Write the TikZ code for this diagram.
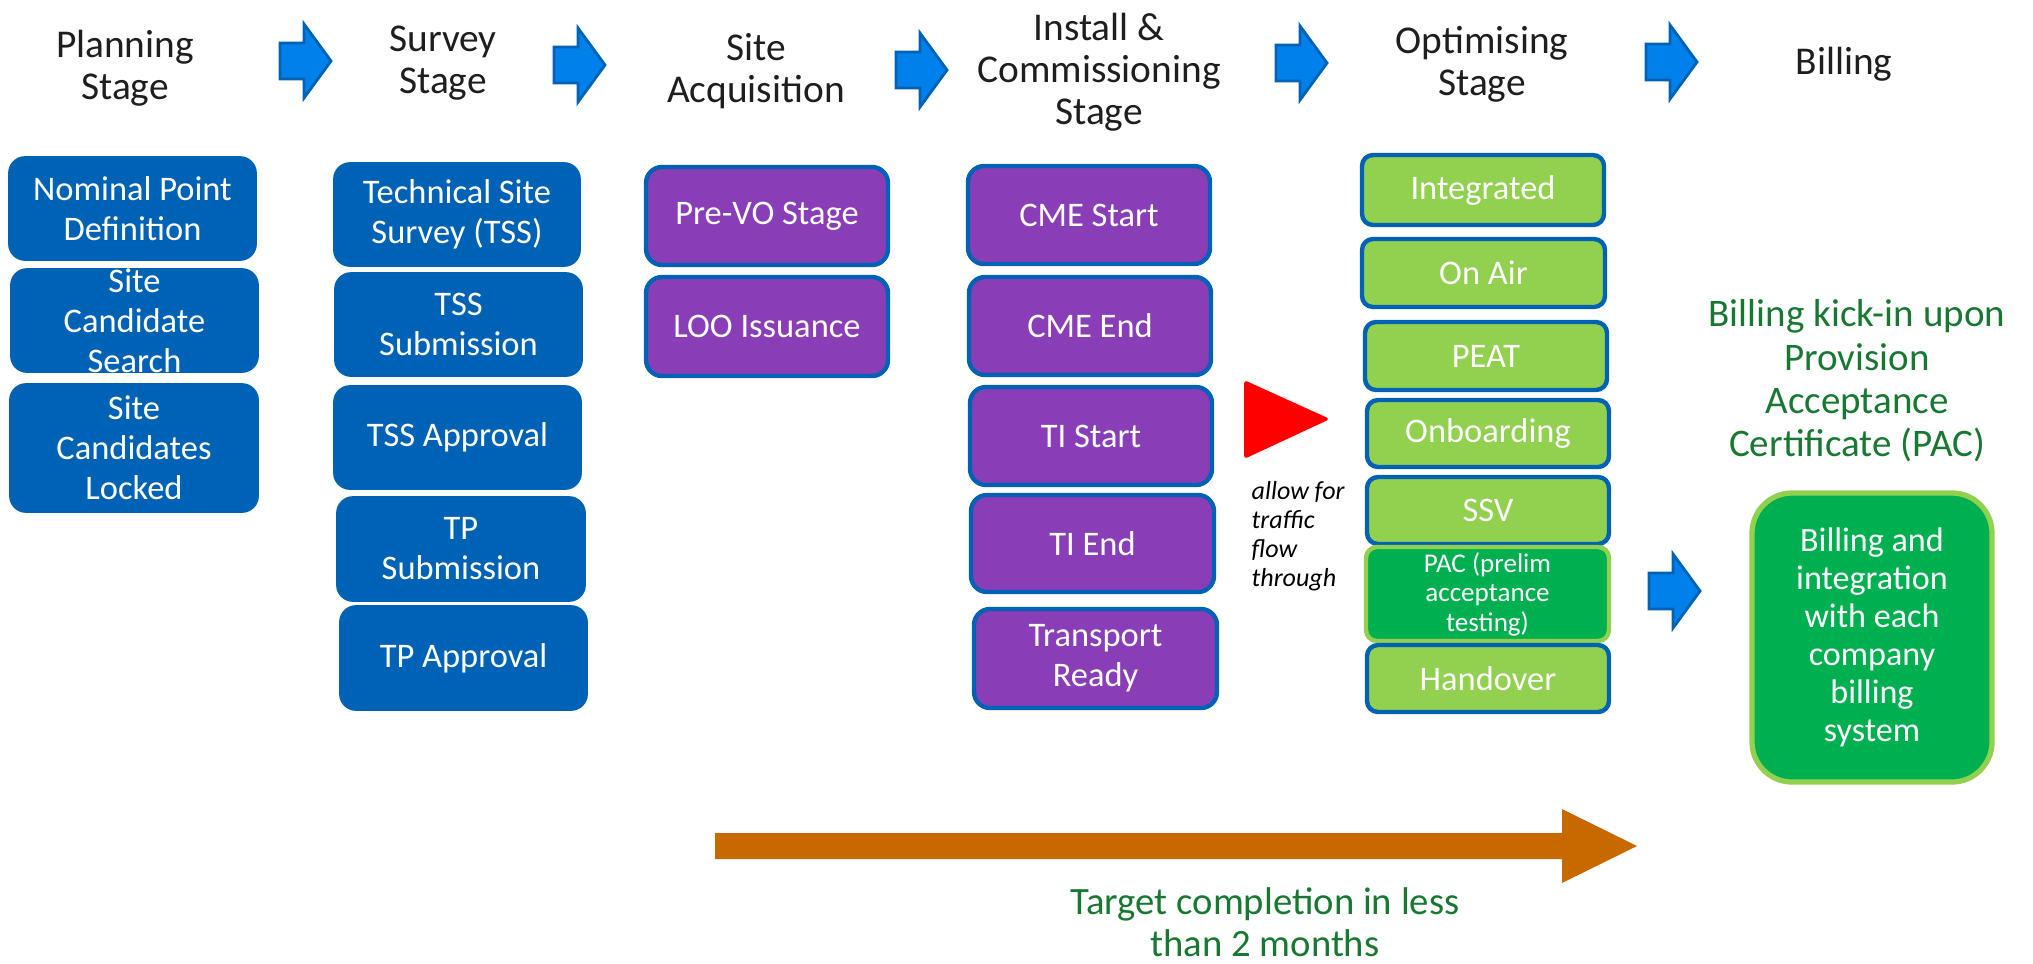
\documentclass[tikz,border=0pt]{standalone}
\usepackage{fontspec}
\setmainfont{Carlito}
\definecolor{eblue}{RGB}{0,98,180}
\definecolor{abl}{RGB}{0,128,235}
\definecolor{epurple}{RGB}{137,62,184}
\definecolor{lgreen}{RGB}{146,208,80}
\definecolor{dgreen}{RGB}{0,176,80}
\definecolor{tgreen}{RGB}{24,120,50}
\definecolor{orng}{RGB}{200,105,0}
\definecolor{ttl}{RGB}{30,30,30}
\tikzset{
  bluebox/.style={draw=eblue, fill=eblue, rounded corners=0.16cm, line width=0.5pt, inner sep=0pt},
  purplebox/.style={draw=eblue, fill=epurple, rounded corners=0.16cm, line width=1.25pt, inner sep=0pt},
  lgbox/.style={draw=eblue, fill=lgreen, rounded corners=0.11cm, line width=1.25pt, inner sep=0pt},
  pacbox/.style={draw=lgreen, fill=dgreen, rounded corners=0.11cm, line width=1.25pt, inner sep=0pt},
  billbox/.style={draw=lgreen, fill=dgreen, rounded corners=0.4cm, line width=1.5pt, inner sep=0pt},
  boxtext/.style={text=white, align=center, font=\fontsize{9.8}{11.4}\selectfont, inner sep=0pt},
  smalltext/.style={text=white, align=center, font=\fontsize{7.7}{8.4}\selectfont, inner sep=0pt},
  billtext/.style={text=white, align=center, font=\fontsize{9.7}{10.8}\selectfont, inner sep=0pt},
  titletext/.style={text=ttl, align=center, font=\fontsize{11.2}{12}\selectfont, inner sep=0pt},
  greentext/.style={text=tgreen, align=center, font=\fontsize{11.1}{12.3}\selectfont, inner sep=0pt},
  targettext/.style={text=tgreen, align=center, font=\fontsize{11}{12.1}\selectfont, inner sep=0pt},
  italictext/.style={text=black, align=left, font=\fontsize{7.4}{8.2}\selectfont\itshape, inner sep=0pt},
  stagearrowst/.style={fill=abl, draw=eblue, line width=0.8pt, line join=miter},
}
\newcommand\stagearrow[2]{\filldraw[stagearrowst] (#1,{#2-18}) -- ({#1+24},{#2-18}) -- ({#1+24},{#2-37}) -- ({#1+51},#2) -- ({#1+24},{#2+37}) -- ({#1+24},{#2+18}) -- (#1,{#2+18}) -- cycle;}
\newcommand\mybox[8][boxtext]{%
  \node[#3, minimum width={(#6-#4)*0.01cm}, minimum height={(#7-#5)*0.01cm}] (#2) at ({(#4+#6)/2},{(#5+#7)/2}) {};
  \node[#1] (#2t) at (#2.center) {#8};}
\begin{document}
\begin{tikzpicture}[x=0.01cm, y=-0.01cm]
\useasboundingbox (0,0) rectangle (2033,963);
% stage titles
\node[titletext] (t1) at (125,68) {Planning\\Stage};
\node[titletext] (t2) at (443,63) {Survey\\Stage};
\node[titletext] (t3) at (756,71) {Site\\Acquisition};
\node[titletext] (t4) at (1099,72) {Install \&\\Commissioning\\Stage};
\node[titletext] (t5) at (1482,64) {Optimising\\Stage};
\node[titletext] (t6) at (1844,64) {Billing};
% stage arrows
\stagearrow{280}{61}
\stagearrow{554}{65}
\stagearrow{896}{70}
\stagearrow{1276}{63}
\stagearrow{1646}{62}
% planning
\mybox{b1}{bluebox}{9}{157}{256}{260}{Nominal Point\\Definition}
\mybox{b2}{bluebox}{11}{269}{258}{372}{Site\\Candidate\\Search}
\mybox{b3}{bluebox}{10}{384}{258}{512}{Site\\Candidates\\Locked}
% survey
\mybox{b4}{bluebox}{334}{163}{580}{266}{Technical Site\\Survey (TSS)}
\mybox{b5}{bluebox}{335}{273}{582}{376}{TSS\\Submission}
\mybox{b6}{bluebox}{334}{386}{581}{489}{TSS Approval}
\mybox{b7}{bluebox}{337}{497}{585}{601}{TP\\Submission}
\mybox{b8}{bluebox}{340}{606}{587}{710}{TP Approval}
% site acquisition
\mybox{p1}{purplebox}{646}{167}{888}{265}{Pre-VO Stage}
\mybox{p2}{purplebox}{646}{277}{888}{376}{LOO Issuance}
% install
\mybox{p3}{purplebox}{968}{166}{1210}{264}{CME Start}
\mybox{p4}{purplebox}{969}{277}{1211}{375}{CME End}
\mybox{p5}{purplebox}{970}{387}{1212}{485}{TI Start}
\mybox{p6}{purplebox}{971}{495}{1214}{592}{TI End}
\mybox{p7}{purplebox}{974}{609}{1217}{708}{Transport\\Ready}
% red triangle and note
\fill[red, rounded corners=1pt] (1244,380) -- (1330,419) -- (1244,459) -- cycle;
\node[italictext, anchor=west] (note) at (1251,536) {allow for\\traffic\\flow\\through};
% optimising
\mybox{g1}{lgbox}{1362}{155}{1604}{225}{Integrated}
\mybox{g2}{lgbox}{1362}{239}{1605}{307}{On Air}
\mybox{g3}{lgbox}{1365}{322}{1607}{390}{PEAT}
\mybox{g4}{lgbox}{1367}{400}{1609}{467}{Onboarding}
\mybox{g5}{lgbox}{1367}{477}{1609}{544}{SSV}
\mybox[smalltext]{g6}{pacbox}{1366}{547}{1609}{641}{PAC (prelim\\acceptance\\testing)}
\mybox{g7}{lgbox}{1367}{645}{1609}{712}{Handover}
% billing
\stagearrow{1649}{591}
\node[greentext] (bk) at (1857,381) {Billing kick-in upon\\Provision\\Acceptance\\Certificate (PAC)};
\mybox[billtext]{bb}{billbox}{1752}{493}{1992}{782}{Billing and\\integration\\with each\\company\\billing\\system}
% timeline
\fill[orng] (715,833) -- (1562,833) -- (1562,809) -- (1637,846) -- (1562,883) -- (1562,859) -- (715,859) -- cycle;
\node[targettext] (tc) at (1265,922) {Target completion in less\\than 2 months};
\end{tikzpicture}
\end{document}
